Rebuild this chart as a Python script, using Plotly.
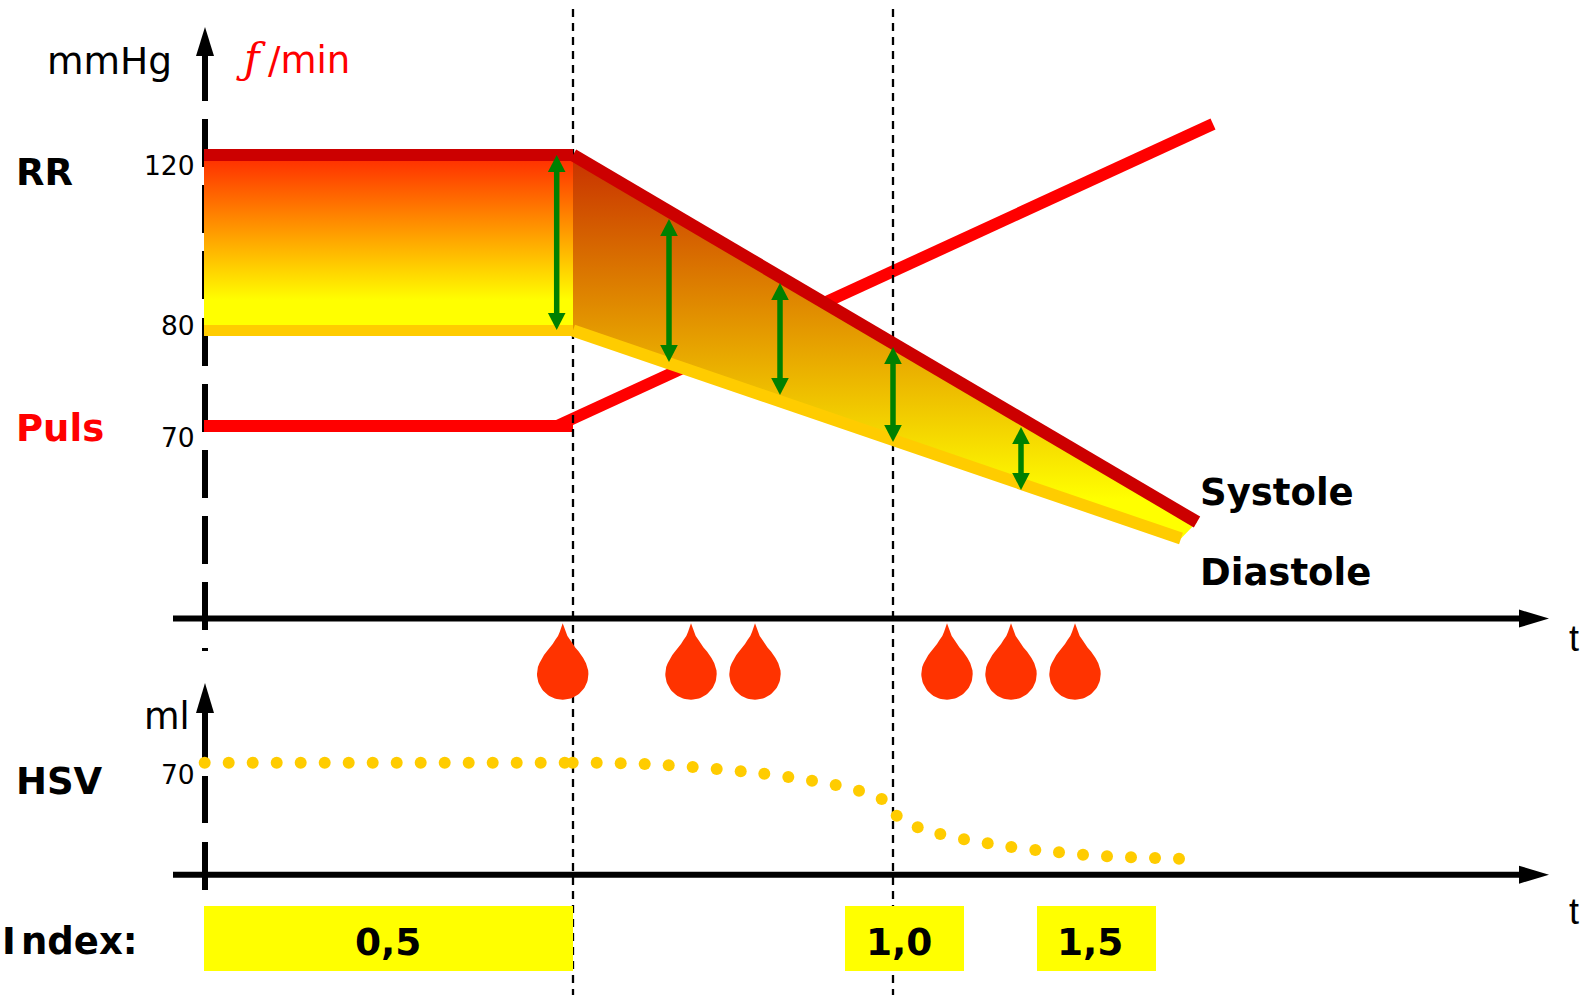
import numpy as np
import plotly.graph_objects as go

# ---- data (picture coordinates) ----
axis_v_top_segments = [(56, 101), (119, 167), (185, 233), (251, 299), (318, 366), (384, 432),
                       (450, 498), (516, 564), (582, 630), (648, 651)]
axis_v_low_segments = [(713, 760), (776, 823), (842, 890)]
axis_h_rows = [618.6, 874.7]
dash_x = [573, 893]

systole_x = [204, 573, 1197]
systole_y = [155, 155, 522]
diastole_x = [204, 573, 1181]
diastole_y = [330.5, 330.5, 538.5]
puls_flat_x = [204, 573]
puls_flat_y = [426, 426]
puls_rise_x = [556, 1210.5, 1215.5, 573]
puls_rise_y = [420, 118.5, 129.5, 425]

range_x = [556.7, 669, 780, 893, 1021]
range_top = [155, 219, 283, 347, 427]
range_bottom = [330, 362, 395, 442, 490]

bleed_x = [562.7, 691, 755, 947, 1011, 1075]

hsv_x = [204.7, 228.7, 252.7, 276.7, 300.7, 324.7, 348.7, 372.7, 396.7, 420.7, 444.7, 468.7,
         492.7, 516.7, 540.7, 564.7, 572.7, 596.7, 620.7, 644.7, 668.7, 692.7, 716.7, 740.7,
         764.3, 788.3, 812, 835.7, 859, 881.7, 896.7, 917.7, 940.3, 964, 987.7, 1011.3,
         1035.3, 1059, 1083, 1107, 1131, 1155, 1179]
hsv_y = [762.7] * 18 + [763.3, 764, 765.3, 767, 769, 771.3, 773.7, 777, 780.7, 785, 790.7, 799,
                        815.7, 827.3, 834, 839.3, 843.3, 847, 850, 852.3, 854.7, 856.3, 857.3,
                        858, 858.7]

index_labels = ["0,5", "1,0", "1,5"]
index_left = [204, 845, 1037]
index_right = [573, 964, 1156]
index_label_x = [388, 899, 1090]
index_top, index_bottom = 906, 971

FONT = "DejaVu Sans"
RED, DARK, ORANGE, GREEN, DROP = "#FF0000", "#CC0000", "#FFCC00", "#008000", "#FF3300"

fig = go.Figure()


def line(x, y, color, width, dash=None):
    fig.add_trace(go.Scatter(x=x, y=y, mode="lines", hoverinfo="skip",
                             line=dict(color=color, width=width, dash=dash)))


def poly(x, y, color=None, gradient=None):
    kw = dict(fillgradient=gradient) if gradient else dict(fillcolor=color)
    fig.add_trace(go.Scatter(x=x, y=y, mode="lines", fill="toself", hoverinfo="skip",
                             line=dict(width=0, color="rgba(0,0,0,0)"), **kw))


# axes
for segs, tip, base in [(axis_v_top_segments, 27, 56), (axis_v_low_segments, 683, 713)]:
    xs, ys = [], []
    for a, b in segs:
        xs += [205, 205, None]
        ys += [a, b, None]
    line(xs, ys, "black", 6)
    poly([205, 196, 214, 205], [tip, base, base, tip], "black")
for row in axis_h_rows:
    line([173, 1520], [row, row], "black", 6)
    poly([1549, 1519, 1519, 1549], [row, row - 9, row + 9, row], "black")

# pulse behind everything coloured
line(puls_flat_x, puls_flat_y, RED, 12)
poly(puls_rise_x + puls_rise_x[:1], puls_rise_y + puls_rise_y[:1], RED)

# dashed time markers
for x in dash_x:
    line([x, x], [9, 995], "black", 2.3, "8px,6px")

# pressure area
poly([systole_x[0], systole_x[1], diastole_x[1], diastole_x[0], systole_x[0]],
     [systole_y[0], systole_y[1], diastole_y[1], diastole_y[0], systole_y[0]],
     gradient=dict(type="vertical", start=161, stop=325,
                   colorscale=[[0, "#FF3300"], [0.85, "#FFFF00"], [1, "#FFFF00"]]))
poly([systole_x[1], systole_x[2], diastole_x[2], diastole_x[1], systole_x[1]],
     [systole_y[1], systole_y[2], diastole_y[2], diastole_y[1], systole_y[1]],
     gradient=dict(type="vertical", start=155, stop=538,
                   colorscale=[[0, "#C83000"], [0.9, "#FFFF00"], [1, "#FFFF00"]]))
line(diastole_x[:2], diastole_y[:2], ORANGE, 11)
line(diastole_x[1:], diastole_y[1:], ORANGE, 12)
line(systole_x[:2], systole_y[:2], DARK, 12)
line(systole_x[1:], systole_y[1:], DARK, 12.5)

# pressure range arrows
HEAD_W, HEAD_L = 8.8, 17
for x, t, b in zip(range_x, range_top, range_bottom):
    line([x, x], [t + HEAD_L - 1, b - HEAD_L + 1], GREEN, 5.5)
    poly([x, x - HEAD_W, x + HEAD_W, x], [t, t + HEAD_L, t + HEAD_L, t], GREEN)
    poly([x, x - HEAD_W, x + HEAD_W, x], [b, b - HEAD_L, b - HEAD_L, b], GREEN)

# index boxes
for l, r in zip(index_left, index_right):
    poly([l, r, r, l, l], [index_top, index_top, index_bottom, index_bottom, index_top], "#FFFF00")

# stroke volume dots
fig.add_trace(go.Scatter(x=hsv_x, y=hsv_y, mode="markers", hoverinfo="skip",
                         marker=dict(color=ORANGE, size=12, line=dict(width=0))))

# blood drops
drop_side_dx = [0, 1.5, 3, 4.7, 7.5, 10, 12.5, 16, 18.7, 20.5, 23.3, 24.8, 25.5, 25.7]
drop_side_dy = [-50.7, -46, -42, -38, -34, -30, -26.5, -22.5, -19, -16, -10.7, -7, -3.5, 0]
ang = np.linspace(0, np.pi, 41)
arc_dx = 25.7 * np.cos(ang)
arc_dy = 25.7 * np.sin(ang)
outline_dx = list(drop_side_dx) + list(arc_dx[1:]) + [-v for v in drop_side_dx[::-1][1:]]
outline_dy = list(drop_side_dy) + list(arc_dy[1:]) + list(drop_side_dy[::-1][1:])
for bx in bleed_x:
    poly([bx + d for d in outline_dx], [674 + d for d in outline_dy], DROP)


def label(text, x, baseline, size, color="black", bold=False, anchor="left", font=FONT):
    fig.add_annotation(x=x, y=baseline - 0.33 * size, text=f"<b>{text}</b>" if bold else text,
                       showarrow=False, xanchor=anchor, yanchor="middle", borderpad=0, borderwidth=0,
                       font=dict(family=font, size=size, color=color))


label("mmHg", 172, 73, 37.5, anchor="right")
label("<i>ƒ</i>", 236, 72.7, 42, RED, font="DejaVu Serif")
label("/min", 268, 72.7, 37, RED)
label("RR", 16, 185, 37, bold=True)
label("Puls", 16, 441, 37, RED, bold=True)
label("HSV", 16, 794, 37, bold=True)
label("I", 2, 954, 37, bold=True)
label("ndex:", 21, 954, 37, bold=True)
label("120", 195, 174, 26.5, anchor="right")
label("80", 195, 334.5, 26.5, anchor="right")
label("70", 195, 446.5, 26.5, anchor="right")
label("70", 195, 783, 26.5, anchor="right")
label("ml", 190, 729, 36.5, anchor="right")
label("Systole", 1200, 504.5, 37, bold=True)
label("Diastole", 1200, 585, 37, bold=True)
label("t", 1569, 650.7, 36, font="Liberation Sans")
label("t", 1569, 923, 36, font="Liberation Sans")
for t, x in zip(index_labels, index_label_x):
    label(t, x, 954, 37.5, bold=True, anchor="center")

fig.update_layout(width=1584, height=995, margin=dict(l=0, r=0, t=0, b=0), showlegend=False,
                  paper_bgcolor="white", plot_bgcolor="white",
                  xaxis=dict(visible=False, range=[0, 1584], fixedrange=True),
                  yaxis=dict(visible=False, range=[995, 0], fixedrange=True))
fig.write_html("out.html", config={"displayModeBar": False},
               post_script="document.body.style.margin='0';")
